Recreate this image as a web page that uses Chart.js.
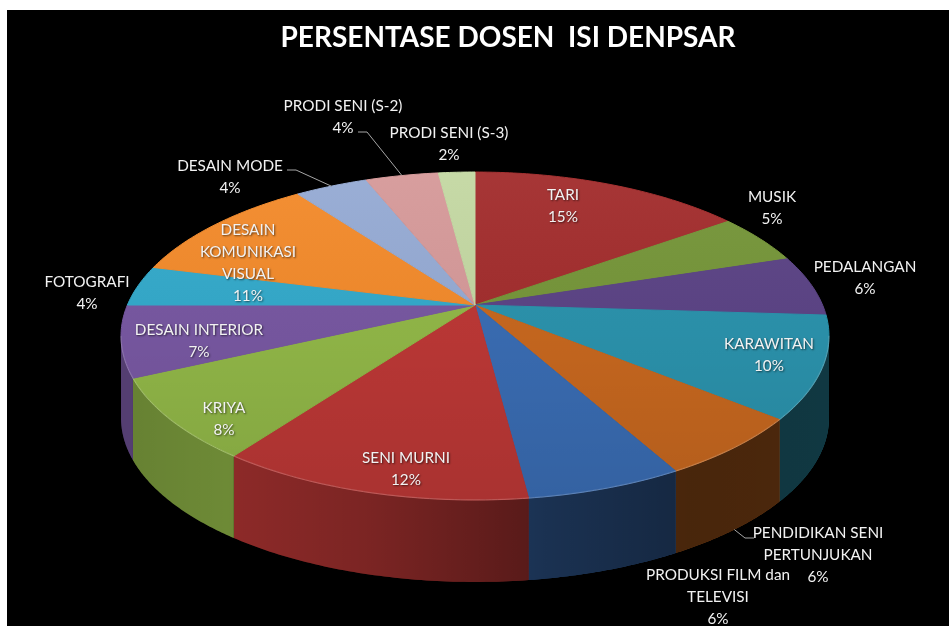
<!DOCTYPE html>
<html>
<head>
<meta charset="utf-8">
<script src="https://cdn.jsdelivr.net/npm/chart.js@4.4.0/dist/chart.umd.min.js"></script>
<style>
  html, body { margin: 0; padding: 0; background: #fff; }
  #wrap { position: absolute; left: 7px; top: 10px; width: 942px; height: 616px; background: #000; }
</style>
</head>
<body>
<div id="wrap"><canvas id="chart"></canvas></div>
<script>
const title = 'PERSENTASE DOSEN  ISI DENPSAR';

// categories as they are written on the picture (line breaks kept)
const categories = [
    ['TARI'], ['MUSIK'], ['PEDALANGAN'], ['KARAWITAN'],
    ['PENDIDIKAN SENI', 'PERTUNJUKAN'], ['PRODUKSI FILM dan', 'TELEVISI'],
    ['SENI MURNI'], ['KRIYA'], ['DESAIN INTERIOR'], ['FOTOGRAFI'],
    ['DESAIN', 'KOMUNIKASI', 'VISUAL'], ['DESAIN MODE'],
    ['PRODI SENI (S-2)'], ['PRODI SENI (S-3)']
];
const percents = [15, 5, 6, 10, 6, 6, 12, 8, 7, 4, 11, 4, 4, 2];

const colors = [
    '#a32e2e', '#76963a', '#5c4486', '#2b93ad', '#c8681f', '#3a6db4', '#bd3836',
    '#92b848', '#7858a2', '#34aacb', '#f38b2c', '#96abd4', '#d69a9a', '#c4d8a3'
];

// label block centres, relative to the pie hub (px)
const labelOffsets = [
    [88, -99], [297, -97], [390, -27], [294, 50], [343, 250], [243, 292],
    [-69, 164], [-251, 114], [-276, 36], [-388, -12], [-227, -42],
    [-245, -128], [-132, -188], [-26, -161]
];
// leader lines: start point relative to label centre, direction of the short horizontal tick
const leaders = [
    {index: 4, start: [-64, -17], dir: -1},
    {index: 11, start: [57, -7], dir: 1},
    {index: 12, start: [15, 15], dir: 1}
];

// perspective of the tilted pie
const PA = 347.6;     // horizontal radius at hub level
const PB = 158.1;     // vertical radius before perspective
const PK = 0.189;     // perspective strength (back shrinks, front grows)
const DEPTH = 82;     // thickness of the side
const LABEL_FONT = '15.3px Lato, "Open Sans", sans-serif';
const LINE_H = 22;

// maps a point of the flat Chart.js pie onto the tilted one
function makeProj(cx, cy, r) {
    return (x, y) => {
        const u = (x - cx) / r, v = -(y - cy) / r;
        const d = 1 + PK * v;
        return [cx + PA * u / d, cy - PB * v / d];
    };
}

// context wrapper: lets the ArcElement draw itself through the projection
function projectedCtx(ctx, proj) {
    return new Proxy(ctx, {
        get(target, prop) {
            if (prop === 'moveTo') return (x, y) => { const p = proj(x, y); target.moveTo(p[0], p[1]); };
            if (prop === 'lineTo') return (x, y) => { const p = proj(x, y); target.lineTo(p[0], p[1]); };
            if (prop === 'arc') return (x, y, rad, a0, a1, ccw) => {
                const TAU = Math.PI * 2;
                let d = a1 - a0;
                if (!ccw) { if (d >= TAU) d = TAU; else while (d < 0) d += TAU; }
                else { if (d <= -TAU) d = -TAU; else while (d > 0) d -= TAU; }
                const n = Math.max(2, Math.ceil(Math.abs(d) / 0.015));
                for (let i = 0; i <= n; i++) {
                    const t = a0 + d * i / n;
                    const p = proj(x + rad * Math.cos(t), y + rad * Math.sin(t));
                    target.lineTo(p[0], p[1]);
                }
            };
            const val = target[prop];
            return typeof val === 'function' ? val.bind(target) : val;
        },
        set(target, prop, value) { target[prop] = value; return true; }
    });
}

function rimPoint(cx, cy, r, proj, t) {
    return proj(cx + r * Math.cos(t), cy + r * Math.sin(t));
}

const pie3d = {
    id: 'pie3d',
    beforeDatasetsDraw(chart) {
        const ctx = chart.ctx;
        const arcs = chart.getDatasetMeta(0).data;
        const cx = arcs[0].x, cy = arcs[0].y, r = arcs[0].outerRadius;
        const proj = makeProj(cx, cy, r);
        const left = cx - PA * 1.02, right = cx + PA * 1.02;

        // side walls, only the part that faces the viewer
        const grad = ctx.createLinearGradient(left, 0, right, 0);
        grad.addColorStop(0, 'rgba(0,0,0,0.30)');
        grad.addColorStop(0.15, 'rgba(0,0,0,0.25)');
        grad.addColorStop(0.35, 'rgba(0,0,0,0.35)');
        grad.addColorStop(0.6, 'rgba(0,0,0,0.55)');
        grad.addColorStop(0.8, 'rgba(0,0,0,0.64)');
        grad.addColorStop(1, 'rgba(0,0,0,0.62)');
        const f0 = Math.asin(PK), f1 = Math.PI - Math.asin(PK);
        arcs.forEach(arc => {
            const a0 = Math.max(arc.startAngle, f0);
            const a1 = Math.min(arc.endAngle, f1);
            if (a1 <= a0) return;
            const steps = 60;
            ctx.beginPath();
            for (let s = 0; s <= steps; s++) {
                const p = rimPoint(cx, cy, r, proj, a0 + (a1 - a0) * s / steps);
                if (s === 0) ctx.moveTo(p[0], p[1]); else ctx.lineTo(p[0], p[1]);
            }
            for (let s = steps; s >= 0; s--) {
                const p = rimPoint(cx, cy, r, proj, a0 + (a1 - a0) * s / steps);
                ctx.lineTo(p[0], p[1] + DEPTH);
            }
            ctx.closePath();
            ctx.fillStyle = arc.options.backgroundColor;
            ctx.fill();
            ctx.fillStyle = grad;
            ctx.fill();
        });

        // top face: every slice drawn by its own ArcElement through the projection
        const pctx = projectedCtx(ctx, proj);
        arcs.forEach(a => a.draw(pctx));

        // soft shading over the top face
        ctx.save();
        ctx.beginPath();
        for (let s = 0; s <= 240; s++) {
            const p = rimPoint(cx, cy, r, proj, s / 240 * Math.PI * 2);
            if (s === 0) ctx.moveTo(p[0], p[1]); else ctx.lineTo(p[0], p[1]);
        }
        ctx.closePath();
        const g = ctx.createLinearGradient(0, cy - 133, 0, cy + 195);
        g.addColorStop(0, 'rgba(255,255,255,0.04)');
        g.addColorStop(0.5, 'rgba(0,0,0,0.03)');
        g.addColorStop(1, 'rgba(0,0,0,0.10)');
        ctx.fillStyle = g;
        ctx.fill();
        // light rim on the front edge
        ctx.beginPath();
        for (let s = 0; s <= 120; s++) {
            const p = rimPoint(cx, cy, r, proj, f0 + (f1 - f0) * s / 120);
            if (s === 0) ctx.moveTo(p[0], p[1]); else ctx.lineTo(p[0], p[1]);
        }
        ctx.strokeStyle = 'rgba(255,255,255,0.18)';
        ctx.lineWidth = 1.2;
        ctx.stroke();
        ctx.restore();
        return false;
    },
    afterDraw(chart) {
        const ctx = chart.ctx;
        const arcs = chart.getDatasetMeta(0).data;
        const cx = arcs[0].x, cy = arcs[0].y, r = arcs[0].outerRadius;
        const proj = makeProj(cx, cy, r);
        ctx.save();

        // title
        ctx.fillStyle = '#ffffff';
        ctx.font = 'bold 28px Lato, "Open Sans", sans-serif';
        ctx.textAlign = 'center';
        ctx.textBaseline = 'middle';
        ctx.fillText(title, 501, 28);

        // leader lines
        ctx.strokeStyle = '#a6a6a6';
        ctx.lineWidth = 1;
        leaders.forEach(l => {
            const arc = arcs[l.index];
            const mid = (arc.startAngle + arc.endAngle) / 2;
            const p = rimPoint(cx, cy, r, proj, mid);
            const ay = Math.sin(mid) > PK ? p[1] + DEPTH : p[1];
            const sx = cx + labelOffsets[l.index][0] + l.start[0];
            const sy = cy + labelOffsets[l.index][1] + l.start[1];
            ctx.beginPath();
            ctx.moveTo(sx, sy);
            ctx.lineTo(sx + 9 * l.dir, sy);
            ctx.lineTo(p[0], ay);
            ctx.stroke();
        });

        // data labels
        ctx.font = LABEL_FONT;
        ctx.fillStyle = '#f2f2f2';
        ctx.shadowColor = 'rgba(0,0,0,0.6)';
        ctx.shadowBlur = 2;
        ctx.shadowOffsetX = 1;
        ctx.shadowOffsetY = 1;
        categories.forEach((cat, i) => {
            const lines = cat.concat([percents[i] + '%']);
            const x = cx + labelOffsets[i][0];
            const y0 = cy + labelOffsets[i][1] - (lines.length - 1) * LINE_H / 2;
            lines.forEach((t, k) => ctx.fillText(t, x, y0 + k * LINE_H));
        });
        ctx.restore();
    }
};

new Chart(document.getElementById('chart'), {
    type: 'pie',
    data: {
        labels: categories,
        datasets: [{
            data: percents,
            backgroundColor: colors,
            borderColor: colors,
            borderWidth: 1,
            clip: false
        }]
    },
    options: {
        responsive: true,
        maintainAspectRatio: false,
        animation: false,
        events: [],
        layout: {
            padding: {top: 0, bottom: 26, left: 0, right: 6}
        },
        plugins: {
            legend: {display: false},
            tooltip: {enabled: false},
            title: {display: false}
        }
    },
    plugins: [pie3d]
});
</script>
</body>
</html>
